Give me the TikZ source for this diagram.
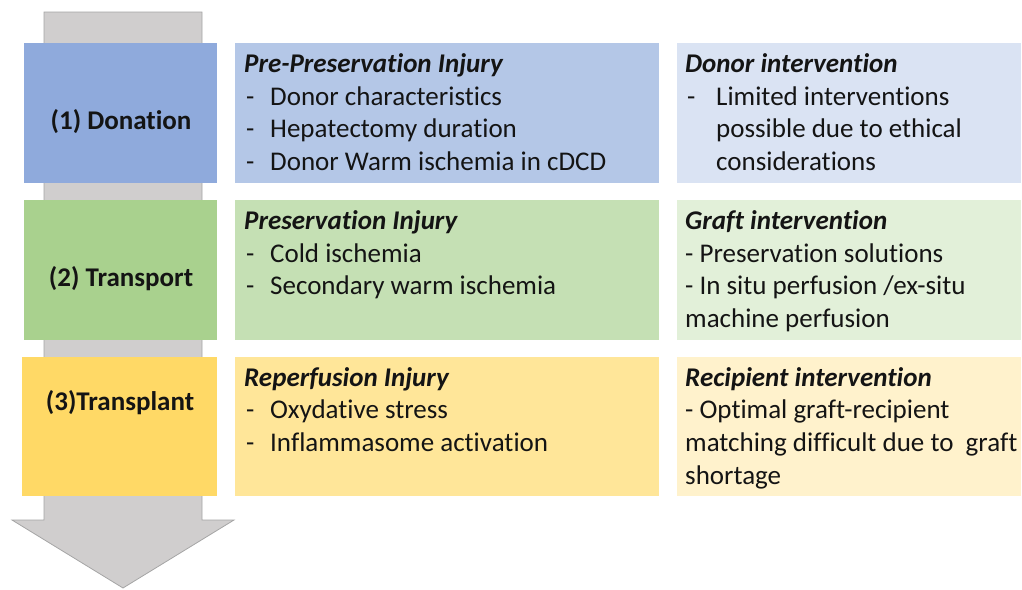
\documentclass[tikz,border=0pt]{standalone}
\usepackage{fontspec}
\setmainfont{Carlito}[Ligatures={NoCommon}]
\definecolor{arrowfill}{HTML}{D0CECE}
\definecolor{arrowline}{HTML}{A5A5A5}
\definecolor{blueA}{HTML}{8FAADC}
\definecolor{blueB}{HTML}{B4C7E7}
\definecolor{blueC}{HTML}{DAE3F3}
\definecolor{greenA}{HTML}{A9D18E}
\definecolor{greenB}{HTML}{C5E0B4}
\definecolor{greenC}{HTML}{E2F0D9}
\definecolor{yellowA}{HTML}{FFD966}
\definecolor{yellowB}{HTML}{FFE699}
\definecolor{yellowC}{HTML}{FFF2CC}
\definecolor{txtcol}{HTML}{141414}
\newcommand{\dsh}[1]{\makebox[#1][l]{-}}
\tikzset{
  lbl/.style={inner sep=0pt, anchor=base, font=\fontsize{27}{32}\selectfont\bfseries, text=txtcol},
  ttl/.style={inner sep=0pt, anchor=base west, font=\fontsize{27}{32}\selectfont\bfseries\itshape, text=txtcol},
  txt/.style={inner sep=0pt, anchor=base west, font=\fontsize{27}{32}\selectfont, text=txtcol}
}
\begin{document}
\begin{tikzpicture}[x=1pt,y=-1pt]
\useasboundingbox (0,0) rectangle (1022,589);
% big down arrow
\draw[fill=arrowfill, draw=arrowline, line width=0.8pt]
  (44,12) -- (202,12) -- (202,520) -- (234,520) -- (123,588) -- (12,520) -- (44,520) -- cycle;
% row 1
\fill[blueA] (24,43) rectangle (217,183);
\fill[blueB] (235,43) rectangle (659,183);
\fill[blueC] (677,43) rectangle (1021,183);
% row 2
\fill[greenA] (24,200) rectangle (217,340);
\fill[greenB] (235,200) rectangle (659,340);
\fill[greenC] (677,200) rectangle (1021,340);
% row 3
\fill[yellowA] (22,357) rectangle (217,496);
\fill[yellowB] (235,357) rectangle (659,496);
\fill[yellowC] (677,357) rectangle (1021,496);

% left labels
\node[lbl] (l1) at (121,129) {(1) Donation};
\node[lbl] (l2) at (121,286) {(2) Transport};
\node[lbl] (l3) at (120,410) {(3)Transplant};

% middle column
\node[ttl] (m1t) at (244,72) {Pre-Preservation Injury};
\node[txt] (m1a) at (246,105) {\dsh{24pt}Donor characteristics};
\node[txt] (m1b) at (246,137) {\dsh{24pt}Hepatectomy duration};
\node[txt] (m1c) at (246,170) {\dsh{24pt}Donor Warm ischemia in cDCD};

\node[ttl] (m2t) at (244,229) {Preservation Injury};
\node[txt] (m2a) at (246,262) {\dsh{24pt}Cold ischemia};
\node[txt] (m2b) at (246,294) {\dsh{24pt}Secondary warm ischemia};

\node[ttl] (m3t) at (244,386) {Reperfusion Injury};
\node[txt] (m3a) at (246,418) {\dsh{24pt}Oxydative stress};
\node[txt] (m3b) at (246,451) {\dsh{24pt}Inflammasome activation};

% right column
\node[ttl] (r1t) at (685,72) {Donor intervention};
\node[txt] (r1a) at (687,105) {\dsh{29pt}Limited interventions};
\node[txt] (r1b) at (716,137) {possible due to ethical};
\node[txt] (r1c) at (716,170) {considerations};

\node[ttl] (r2t) at (685,229) {Graft intervention};
\node[txt] (r2a) at (685,262) {- Preservation solutions};
\node[txt] (r2b) at (685,294) {- In situ perfusion /ex-situ};
\node[txt] (r2c) at (685,327) {machine perfusion};

\node[ttl] (r3t) at (685,386) {Recipient intervention};
\node[txt] (r3a) at (685,418) {- Optimal graft-recipient};
\node[txt] (r3b) at (685,451) {matching difficult due to \ graft};
\node[txt] (r3c) at (685,484) {shortage};
\end{tikzpicture}
\end{document}
